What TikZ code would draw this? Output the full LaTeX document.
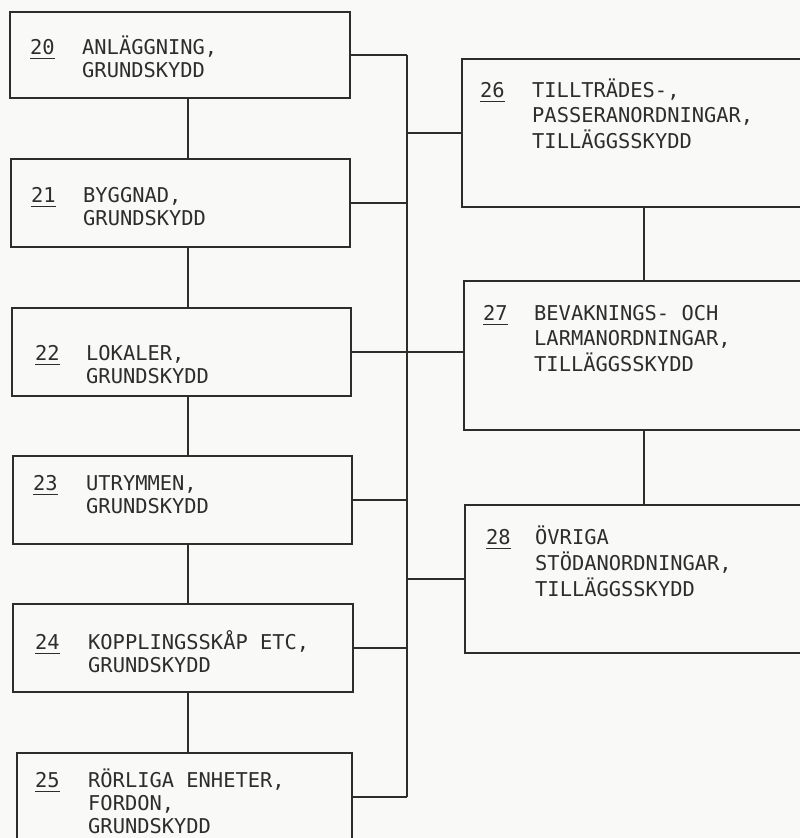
\documentclass[tikz,border=0pt]{standalone}
\usepackage{fontspec}
\usepackage{tikz}
\newfontfamily\boxfont{DejaVu Sans Mono}
\definecolor{paper}{RGB}{249,249,247}
\definecolor{ink}{RGB}{45,45,45}
% underlined section number
\newcommand{\secno}[1]{\leavevmode\setbox0\hbox{#1}\rlap{\rule[-4.5pt]{\wd0}{1.4pt}}\box0}

\begin{document}
\begin{tikzpicture}[x=1pt, y=1pt,
    box/.style={rectangle, draw=ink, line width=2.2pt, inner sep=0pt, minimum width=340, minimum height=87},
    lbl/.style={anchor=base west, inner sep=0pt, text=ink, font=\boxfont\fontsize{20.4}{23}\selectfont},
    rlbl/.style={lbl, font=\boxfont\fontsize{20.4}{25}\selectfont},
    link/.style={draw=ink, line width=1.6pt}]

        \useasboundingbox (0,0) rectangle (800,-838);
        \fill[paper] (0,0) rectangle (800,-838);
        \clip (0,0) rectangle (800,-838);

        % x positions of the vertical lines
        \coordinate (lx) at (188,0);
        \coordinate (bus) at (407,0);
        \coordinate (rx) at (644,0);

        % Left column: basic protection
        \node[box, minimum height=86] (b20) at (180,-55) {};
        \node[box, minimum width=339, minimum height=88] (b21) at (180.5,-203) {};
        \node[box, minimum width=339, minimum height=88] (b22) at (181.5,-352) {};
        \node[box, minimum width=339, minimum height=88] (b23) at (182.5,-500) {};
        \node[box, minimum height=88] (b24) at (183,-648) {};
        \node[box, minimum width=335, minimum height=88] (b25) at (184.5,-797) {};

        % Right column: additional protection
        \node[box, minimum width=368, minimum height=148] (b26) at (646,-133) {};
        \node[box, minimum width=366, minimum height=149] (b27) at (647,-355.5) {};
        \node[box, minimum width=365, minimum height=148] (b28) at (647.5,-579) {};

        % Texts
        \node[lbl] (t20) at (30,-54.5) {\begin{tabular}[t]{@{}p{52pt}@{}l@{}}\secno{20} & ANLÄGGNING,\\ & GRUNDSKYDD\end{tabular}};
        \node[lbl] (t21) at (31,-202.5) {\begin{tabular}[t]{@{}p{52pt}@{}l@{}}\secno{21} & BYGGNAD,\\ & GRUNDSKYDD\end{tabular}};
        \node[lbl] (t22) at (35,-360.5) {\begin{tabular}[t]{@{}p{51pt}@{}l@{}}\secno{22} & LOKALER,\\ & GRUNDSKYDD\end{tabular}};
        \node[lbl] (t23) at (33,-490.5) {\begin{tabular}[t]{@{}p{53pt}@{}l@{}}\secno{23} & UTRYMMEN,\\ & GRUNDSKYDD\end{tabular}};
        \node[lbl] (t24) at (35,-649.5) {\begin{tabular}[t]{@{}p{53pt}@{}l@{}}\secno{24} & KOPPLINGSSKÅP ETC,\\ & GRUNDSKYDD\end{tabular}};
        \node[lbl] (t25) at (35,-787.5) {\begin{tabular}[t]{@{}p{53pt}@{}l@{}}\secno{25} & RÖRLIGA ENHETER,\\ & FORDON,\\ & GRUNDSKYDD\end{tabular}};
        \node[rlbl] (t26) at (480,-97.5) {\begin{tabular}[t]{@{}p{52pt}@{}l@{}}\secno{26} & TILLTRÄDES-,\\ & PASSERANORDNINGAR,\\ & TILLÄGGSSKYDD\end{tabular}};
        \node[rlbl] (t27) at (483,-320.5) {\begin{tabular}[t]{@{}p{51pt}@{}l@{}}\secno{27} & BEVAKNINGS- OCH\\ & LARMANORDNINGAR,\\ & TILLÄGGSSKYDD\end{tabular}};
        \node[rlbl] (t28) at (486,-544.5) {\begin{tabular}[t]{@{}p{49pt}@{}l@{}}\secno{28} & ÖVRIGA\\ & STÖDANORDNINGAR,\\ & TILLÄGGSSKYDD\end{tabular}};

        % Chain of the left column
        \draw[link] (b20.south -| lx) -- (b21.north -| lx);
        \draw[link] (b21.south -| lx) -- (b22.north -| lx);
        \draw[link] (b22.south -| lx) -- (b23.north -| lx);
        \draw[link] (b23.south -| lx) -- (b24.north -| lx);
        \draw[link] (b24.south -| lx) -- (b25.north -| lx);

        % Chain of the right column
        \draw[link] (b26.south -| rx) -- (b27.north -| rx);
        \draw[link] (b27.south -| rx) -- (b28.north -| rx);

        % Bus between the columns
        \draw[link] (b20.east -| bus) -- (b25.east -| bus);
        \draw[link] (b20.east) -- (b20.east -| bus);
        \draw[link] (b21.east) -- (b21.east -| bus);
        \draw[link] (b22.east) -- (b27.west |- b22.east);
        \draw[link] (b23.east) -- (b23.east -| bus);
        \draw[link] (b24.east) -- (b24.east -| bus);
        \draw[link] (b25.east) -- (b25.east -| bus);
        \draw[link] (b26.west -| bus) -- (b26.west);
        \draw[link] (b28.west -| bus) -- (b28.west);
        \end{tikzpicture}
\end{document}
